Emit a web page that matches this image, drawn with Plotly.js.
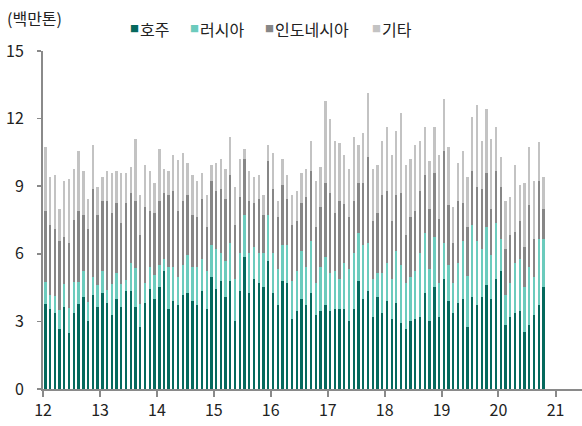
<!DOCTYPE html>
<html>
<head>
<meta charset="utf-8">
<script src="https://cdn.plot.ly/plotly-3.0.1.min.js"></script>
<style>
  html, body { margin: 0; padding: 0; background: #ffffff; }
  #chart { width: 582px; height: 426px; }
</style>
</head>
<body>
<div id="chart"></div>
<script>
// ---- data (million tonnes, monthly, Jan 2012 - Oct 2020) ----
const startYear = 2012;
const monthCount = 106;
const months = [];
for (let k = 0; k < monthCount; k++) {
  const y = startYear + Math.floor(k / 12);
  const m = (k % 12) + 1;
  months.push(y + '-' + (m < 10 ? '0' + m : m));
}

const seriesNames = ['호주', '러시아', '인도네시아', '기타'];
const seriesColors = ['#05695d', '#6ccbbd', '#878787', '#c3c3c3'];

const australia = [
  3.78,3.55,3.39,2.66,3.65,2.50,3.37,3.78,4.08,3.02,4.17,3.65,
  4.26,3.82,3.28,4.00,3.64,4.35,4.35,3.64,2.75,3.82,4.43,3.99,
  4.53,5.24,3.55,3.91,3.73,4.17,4.26,3.91,3.73,4.35,3.55,4.97,
  4.44,4.79,4.08,4.79,3.02,4.35,5.86,4.26,4.88,4.70,4.53,5.68,
  4.26,3.73,4.79,4.70,3.11,3.46,3.99,3.73,4.26,3.28,3.46,3.73,
  3.46,3.55,3.55,3.55,3.02,3.55,4.79,4.00,4.35,3.20,4.08,3.37,
  3.91,3.11,3.82,2.93,2.66,3.02,3.11,3.20,4.26,3.02,4.53,3.20,
  4.88,3.91,3.37,3.82,4.00,2.75,4.08,3.73,4.08,4.62,3.99,4.88,
  5.24,2.84,3.20,3.37,3.46,2.51,2.84,3.28,3.73,4.53
];
const russia = [
  0.95,0.62,0.75,0.84,0.99,1.08,1.36,0.95,1.17,0.84,0.82,0.98,
  0.99,0.57,1.38,1.16,1.02,0.49,1.26,1.72,1.02,0.88,0.98,1.07,
  0.97,0.53,1.86,1.50,1.24,1.33,1.69,1.50,1.68,1.42,1.69,1.42,
  1.77,1.25,1.60,1.69,1.86,1.69,1.86,1.78,1.42,1.34,1.51,2.04,
  1.78,1.60,1.60,1.69,1.68,1.78,2.13,1.68,2.31,1.42,1.95,2.13,
  1.69,1.69,1.33,2.04,2.31,2.49,2.13,2.39,2.13,1.69,1.07,1.78,
  1.68,1.77,2.30,2.57,2.04,1.95,2.13,2.83,2.66,2.31,2.22,1.50,
  1.60,1.59,1.33,1.77,2.57,2.28,3.20,2.84,2.13,2.57,1.96,2.49,
  1.42,1.33,1.50,2.22,2.31,2.01,2.58,1.69,2.93,2.13
];
const indonesia = [
  3.17,3.10,2.96,3.07,2.12,2.91,2.77,3.17,2.47,3.24,3.88,3.09,
  3.09,3.95,3.15,3.09,2.71,3.41,3.09,2.98,3.06,3.37,2.49,2.75,
  2.84,2.93,3.20,3.38,2.93,2.84,2.66,2.31,2.22,2.66,1.95,2.84,
  2.58,2.83,2.75,3.02,2.40,2.48,2.49,2.30,1.95,2.39,1.68,2.40,
  2.83,2.30,2.67,2.04,2.49,2.21,2.13,3.11,3.10,2.49,2.66,3.28,
  3.55,2.57,3.46,2.61,2.30,2.30,2.22,2.75,3.82,2.58,2.66,3.46,
  3.20,2.57,2.49,3.20,2.13,2.66,2.66,2.76,2.58,2.66,2.84,2.84,
  4.08,2.67,1.78,2.76,1.69,2.16,2.39,2.39,2.66,2.40,2.05,2.30,
  2.30,2.04,2.14,1.39,1.68,1.78,2.75,1.69,2.57,1.34
];
const others = [
  2.83,2.14,2.40,1.42,2.47,2.83,2.26,2.66,1.95,1.33,1.96,1.24,
  1.07,1.33,1.78,1.42,2.22,1.34,1.15,2.74,1.78,1.87,1.77,1.33,
  2.31,1.06,1.06,1.59,2.25,2.13,1.42,1.78,1.60,1.16,1.41,0.71,
  1.24,1.34,1.33,1.68,1.69,1.69,0.44,1.33,1.16,1.07,0.89,0.71,
  1.60,0.71,1.15,1.07,1.33,1.34,1.34,1.24,1.34,2.04,1.78,3.64,
  3.28,3.20,2.58,2.18,2.13,2.84,1.69,2.22,2.84,2.29,2.13,2.40,
  2.84,2.93,2.84,3.55,3.11,2.58,2.93,2.22,2.13,2.13,2.04,2.84,
  2.31,2.57,1.60,1.68,2.30,2.22,2.40,3.64,2.14,2.84,3.10,1.96,
  1.34,2.13,1.68,2.96,1.60,2.84,2.57,2.57,1.73,1.41
];

const yTickVals = [0, 3, 6, 9, 12, 15];
const unitLabel = '(백만톤)';

// ---- chart ----
const seriesValues = [australia, russia, indonesia, others];
const traces = seriesValues.map((vals, s) => ({
  type: 'bar',
  name: seriesNames[s],
  x: months,
  y: vals,
  xperiod: 'M1',
  xperiodalignment: 'middle',
  marker: { color: seriesColors[s], line: { width: 0 } },
  showlegend: false,
  hoverinfo: 'skip'
}));

const W = 582, H = 426;
const mL = 43, mR = 0, mT = 51, mB = 37;
const pw = W - mL - mR, ph = H - mT - mB;
const px = v => (v - mL) / pw;          // pixel x -> paper x
const py = v => (H - mB - v) / ph;      // pixel y -> paper y

const fontFam = '"Noto Sans CJK KR", "Noto Sans", sans-serif';
const annotations = [{
  xref: 'paper', yref: 'paper', x: px(5), y: py(18),
  xanchor: 'left', yanchor: 'middle', showarrow: false,
  text: unitLabel, font: { family: fontFam, size: 16, color: '#222' }
}];
const legendX = [128, 188, 263, 370];
seriesNames.forEach((n, s) => {
  annotations.push({
    xref: 'paper', yref: 'paper', x: px(legendX[s]), y: py(29),
    xanchor: 'left', yanchor: 'middle', showarrow: false,
    text: '■', font: { family: fontFam, size: 9, color: seriesColors[s] }
  });
  annotations.push({
    xref: 'paper', yref: 'paper', x: px(legendX[s] + 10), y: py(29),
    xanchor: 'left', yanchor: 'middle', showarrow: false,
    text: n, font: { family: fontFam, size: 16, color: '#222' }
  });
});

const layout = {
  width: W, height: H,
  margin: { l: mL, r: mR, t: mT, b: mB, pad: 0 },
  paper_bgcolor: '#ffffff', plot_bgcolor: '#ffffff',
  barmode: 'stack',
  bargap: 0.5,
  showlegend: false,
  font: { family: fontFam, size: 16, color: '#222' },
  xaxis: {
    type: 'date',
    range: ['2012-01-01', '2021-06-20'],
    tick0: '2012-01-01', dtick: 'M12', tickformat: '%y',
    ticks: 'outside', ticklen: 6, tickwidth: 2, tickcolor: '#8a8a8a',
    showline: true, linecolor: '#8a8a8a', linewidth: 2,
    showgrid: false, zeroline: false,
    tickfont: { family: fontFam, size: 16, color: '#222' }
  },
  yaxis: {
    range: [0, 15],
    tickvals: yTickVals,
    ticks: 'outside', ticklen: 4, tickwidth: 1.5, tickcolor: '#8a8a8a',
    showline: true, linecolor: '#8a8a8a', linewidth: 2,
    showgrid: false, zeroline: false,
    ticklabelstandoff: 10,
    tickfont: { family: fontFam, size: 16, color: '#222' }
  },
  annotations: annotations
};

Plotly.newPlot('chart', traces, layout, { staticPlot: true, displayModeBar: false });
</script>
</body>
</html>
